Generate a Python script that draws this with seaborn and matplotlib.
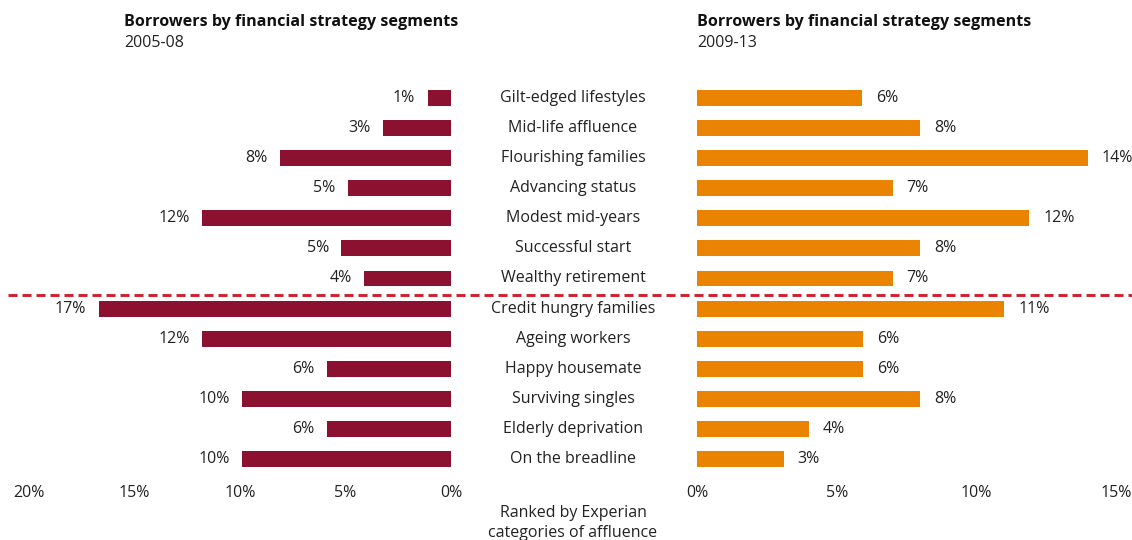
import matplotlib
matplotlib.use("Agg")
import matplotlib.pyplot as plt
import matplotlib.transforms as mtransforms
from matplotlib.lines import Line2D
import seaborn as sns
import pandas as pd

categories = ["Gilt-edged lifestyles", "Mid-life affluence", "Flourishing families",
              "Advancing status", "Modest mid-years", "Successful start",
              "Wealthy retirement", "Credit hungry families", "Ageing workers",
              "Happy housemate", "Surviving singles", "Elderly deprivation",
              "On the breadline"]
values_2005_08 = [1.1, 3.2, 8.1, 4.9, 11.8, 5.2, 4.1, 16.7, 11.8, 5.9, 9.9, 5.9, 9.9]
values_2009_13 = [5.9, 8.0, 14.0, 7.0, 11.9, 8.0, 7.0, 11.0, 5.95, 5.95, 8.0, 4.0, 3.1]
left_ticks = [20, 15, 10, 5, 0]
right_ticks = [0, 5, 10, 15]
title_text = "Borrowers by financial strategy segments"
left_sub = "2005-08"
right_sub = "2009-13"
bottom_text = "Ranked by Experian\ncategories of affluence"

df = pd.DataFrame({"segment": categories, "p1": values_2005_08, "p2": values_2009_13})

sns.set_theme(style="white")
plt.rcParams["font.family"] = ["Open Sans", "DejaVu Sans"]
TXT = "#222222"
MAROON = "#8C1131"
ORANGE = "#E98300"

W, H = 1132, 540
fig = plt.figure(figsize=(W / 100, H / 100), dpi=100)

top_px, bot_px = 83, 474
axL = fig.add_axes([29 / W, 1 - bot_px / H, 422 / W, (bot_px - top_px) / H])
axR = fig.add_axes([697 / W, 1 - bot_px / H, 419 / W, (bot_px - top_px) / H])

sns.barplot(data=df, x="p1", y="segment", ax=axL, color=MAROON, width=0.53,
            orient="h", saturation=1, linewidth=0, edgecolor="none")
sns.barplot(data=df, x="p2", y="segment", ax=axR, color=ORANGE, width=0.53,
            orient="h", saturation=1, linewidth=0, edgecolor="none")

axL.set_xlim(20, 0)
axR.set_xlim(0, 15)
axL.set_xticks(left_ticks)
axR.set_xticks(right_ticks)
axL.set_xticklabels([f"{t}%" for t in left_ticks])
axR.set_xticklabels([f"{t}%" for t in right_ticks])

for ax in (axL, axR):
    ax.set_ylim(len(categories) - 0.5, -0.5)
    ax.set_yticks([])
    ax.set_xlabel("")
    ax.set_ylabel("")
    for s in ax.spines.values():
        s.set_visible(False)
    ax.tick_params(axis="x", length=0, pad=8, labelsize=11.5, labelcolor=TXT)
    ax.set_facecolor("none")

axL.bar_label(axL.containers[0], labels=[f"{round(v)}%" for v in values_2005_08],
              padding=9, fontsize=11.5, color=TXT)
axR.bar_label(axR.containers[0], labels=[f"{round(v)}%" for v in values_2009_13],
              padding=10, fontsize=11.5, color=TXT)

# Category labels centered between panels
trans = mtransforms.blended_transform_factory(fig.transFigure, axL.transData)
for i, c in enumerate(categories):
    fig.text(573 / W, i, c, transform=trans, ha="center", va="center",
             fontsize=11.5, color=TXT)

# Dashed divider between the two groups
fig.add_artist(Line2D([8 / W, 1.0], [6.55, 6.55], transform=trans, color="#D0202E",
                      lw=2.1, linestyle=(0, (3.1, 1.7))))

# Titles
fig.text(124 / W, 1 - 22 / H, title_text, fontsize=11.6, fontweight="bold",
         color="#111111", ha="left", va="center")
fig.text(124 / W, 1 - 43 / H, left_sub, fontsize=11.5, color=TXT, ha="left", va="center")
fig.text(697 / W, 1 - 22 / H, title_text, fontsize=11.6, fontweight="bold",
         color="#111111", ha="left", va="center")
fig.text(697 / W, 1 - 43 / H, right_sub, fontsize=11.5, color=TXT, ha="left", va="center")

fig.text(573 / W, 1 - 505 / H, bottom_text, fontsize=11.5, color=TXT,
         ha="center", va="top", linespacing=1.3)

fig.savefig("out.png", dpi=100)
